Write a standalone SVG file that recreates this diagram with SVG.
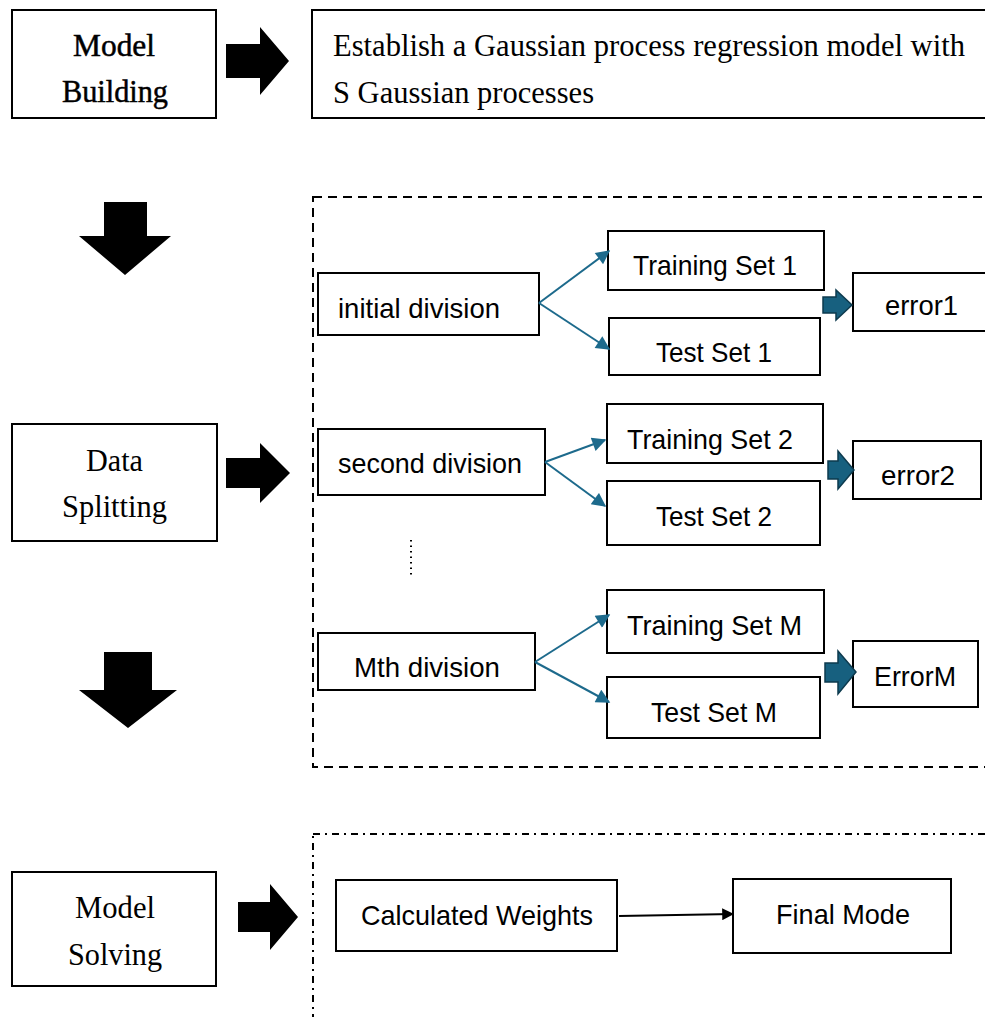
<svg xmlns="http://www.w3.org/2000/svg" width="985" height="1017" viewBox="0 0 985 1017">
  <style>
    .box { fill: #ffffff; stroke: #000000; stroke-width: 2; }
    .serif { font-family: "Liberation Serif", "Times New Roman", serif; font-size: 32px; fill: #000000; }
    .sans { font-family: "Liberation Sans", Arial, sans-serif; font-size: 28.5px; fill: #000000; }
    .bigarrow { fill: #000000; }
    .blue { stroke: #1d6a8c; stroke-width: 2; fill: none; }
    .fat { fill: #17607f; stroke: #0d3a4e; stroke-width: 1.5; }
    .frame-dash { fill: none; stroke: #000000; stroke-width: 2; stroke-dasharray: 9 6; }
    .frame-dashdot { fill: none; stroke: #000000; stroke-width: 2; stroke-dasharray: 7 5 2 5; }
  </style>
  <defs>
    <marker id="blueHead" viewBox="0 0 10 10" refX="9" refY="5" markerWidth="8" markerHeight="7" orient="auto" markerUnits="strokeWidth">
      <path d="M0,0 L10,5 L0,10 Z" fill="#1d6a8c"/>
    </marker>
    <marker id="blackHead" viewBox="0 0 10 10" refX="9" refY="5" markerWidth="6" markerHeight="6" orient="auto" markerUnits="strokeWidth">
      <path d="M0,0 L10,5 L0,10 Z" fill="#000000"/>
    </marker>
  </defs>

  <rect width="985" height="1017" fill="#ffffff"/>

  <!-- dashed frame around the data-splitting stage -->
  <rect class="frame-dash" x="313" y="197" width="700" height="570"/>
  <!-- dash-dot frame around the solving stage -->
  <rect class="frame-dashdot" x="313" y="834" width="700" height="220"/>

  <!-- stage labels -->
  <g id="model-building">
    <rect class="box" x="12" y="10" width="204" height="108"/>
    <text class="serif" x="73" y="56" textLength="82" lengthAdjust="spacingAndGlyphs" stroke="#000" stroke-width="0.5">Model</text>
    <text class="serif" x="62" y="102" textLength="106" lengthAdjust="spacingAndGlyphs" stroke="#000" stroke-width="0.5">Building</text>
  </g>
  <g id="data-splitting">
    <rect class="box" x="12" y="424" width="205" height="117"/>
    <text class="serif" x="86" y="471" textLength="57" lengthAdjust="spacingAndGlyphs">Data</text>
    <text class="serif" x="62" y="517" textLength="105" lengthAdjust="spacingAndGlyphs">Splitting</text>
  </g>
  <g id="model-solving">
    <rect class="box" x="12" y="872" width="204" height="114"/>
    <text class="serif" x="75" y="918" textLength="80" lengthAdjust="spacingAndGlyphs">Model</text>
    <text class="serif" x="68" y="965" textLength="94" lengthAdjust="spacingAndGlyphs">Solving</text>
  </g>

  <g id="gpr-model">
    <rect class="box" x="312" y="10" width="690" height="108"/>
    <text class="serif" x="333" y="56" textLength="632" lengthAdjust="spacingAndGlyphs">Establish a Gaussian process regression model with</text>
    <text class="serif" x="333" y="103" textLength="261" lengthAdjust="spacingAndGlyphs">S Gaussian processes</text>
  </g>

  <!-- first division -->
  <g id="initial-division">
    <rect class="box" x="318" y="273" width="221" height="62"/>
    <text class="sans" x="338" y="318" textLength="162" lengthAdjust="spacingAndGlyphs">initial division</text>
  </g>
  <g id="training-set-1">
    <rect class="box" x="608" y="231" width="216" height="59"/>
    <text class="sans" x="633" y="275" textLength="164" lengthAdjust="spacingAndGlyphs">Training Set 1</text>
  </g>
  <g id="test-set-1">
    <rect class="box" x="609" y="318" width="211" height="57"/>
    <text class="sans" x="656" y="362" textLength="116" lengthAdjust="spacingAndGlyphs">Test Set 1</text>
  </g>
  <g id="error-1">
    <rect class="box" x="853" y="273" width="150" height="58"/>
    <text class="sans" x="885" y="315" textLength="73" lengthAdjust="spacingAndGlyphs">error1</text>
  </g>

  <!-- second division -->
  <g id="second-division">
    <rect class="box" x="318" y="429" width="227" height="66"/>
    <text class="sans" x="338" y="473" textLength="184" lengthAdjust="spacingAndGlyphs">second division</text>
  </g>
  <g id="training-set-2">
    <rect class="box" x="607" y="404" width="216" height="59"/>
    <text class="sans" x="627" y="449" textLength="166" lengthAdjust="spacingAndGlyphs">Training Set 2</text>
  </g>
  <g id="test-set-2">
    <rect class="box" x="607" y="481" width="213" height="64"/>
    <text class="sans" x="656" y="526" textLength="116" lengthAdjust="spacingAndGlyphs">Test Set 2</text>
  </g>
  <g id="error-2">
    <rect class="box" x="853" y="441" width="128" height="58"/>
    <text class="sans" x="881" y="485" textLength="74" lengthAdjust="spacingAndGlyphs">error2</text>
  </g>

  <!-- ellipsis between divisions -->
  <line x1="411" y1="540" x2="411" y2="578" stroke="#000" stroke-width="2" stroke-dasharray="1.5 4"/>

  <!-- Mth division -->
  <g id="mth-division">
    <rect class="box" x="318" y="633" width="217" height="57"/>
    <text class="sans" x="354" y="677" textLength="146" lengthAdjust="spacingAndGlyphs">Mth division</text>
  </g>
  <g id="training-set-m">
    <rect class="box" x="607" y="590" width="217" height="63"/>
    <text class="sans" x="627" y="635" textLength="175" lengthAdjust="spacingAndGlyphs">Training Set M</text>
  </g>
  <g id="test-set-m">
    <rect class="box" x="607" y="677" width="213" height="61"/>
    <text class="sans" x="651" y="722" textLength="126" lengthAdjust="spacingAndGlyphs">Test Set M</text>
  </g>
  <g id="error-m">
    <rect class="box" x="853" y="641" width="125" height="66"/>
    <text class="sans" x="874" y="686" textLength="82" lengthAdjust="spacingAndGlyphs">ErrorM</text>
  </g>

  <!-- solving stage -->
  <g id="calculated-weights">
    <rect class="box" x="336" y="880" width="281" height="71"/>
    <text class="sans" x="361" y="925" textLength="232" lengthAdjust="spacingAndGlyphs">Calculated Weights</text>
  </g>
  <g id="final-mode">
    <rect class="box" x="733" y="879" width="218" height="74"/>
    <text class="sans" x="776" y="924" textLength="134" lengthAdjust="spacingAndGlyphs">Final Mode</text>
  </g>

  <g id="connectors">
    <!-- block arrows between stages -->
    <path class="bigarrow" d="M226,44 H260 V27 L289,61 L260,95 V78 H226 Z"/>
    <path class="bigarrow" d="M104,202 H147 V236 H171 L125,275 L79,236 H104 Z"/>
    <path class="bigarrow" d="M226,458 H260 V443 L290,473 L260,503 V488 H226 Z"/>
    <path class="bigarrow" d="M104,652 H152 V690 H177 L128,728 L79,690 H104 Z"/>
    <path class="bigarrow" d="M238,902 H270 V884 L298,917 L270,950 V932 H238 Z"/>

    <!-- division splits -->
    <line class="blue" x1="539" y1="303" x2="609" y2="251" marker-end="url(#blueHead)"/>
    <line class="blue" x1="539" y1="303" x2="609" y2="349" marker-end="url(#blueHead)"/>
    <line class="blue" x1="545" y1="462" x2="605" y2="440" marker-end="url(#blueHead)"/>
    <line class="blue" x1="545" y1="462" x2="605" y2="506" marker-end="url(#blueHead)"/>
    <line class="blue" x1="535" y1="662" x2="609" y2="615" marker-end="url(#blueHead)"/>
    <line class="blue" x1="535" y1="662" x2="609" y2="702" marker-end="url(#blueHead)"/>

    <!-- fat arrows to errors -->
    <path class="fat" d="M823,297 H836 V290 L852,305 L836,320 V313 H823 Z"/>
    <path class="fat" d="M828,461 H838 V451 L854,470 L838,489 V479 H828 Z"/>
    <path class="fat" d="M825,663 H838 V651 L856,672 L838,694 V682 H825 Z"/>

    <!-- weights to final model -->
    <line x1="619" y1="916" x2="733" y2="914" stroke="#000" stroke-width="2" marker-end="url(#blackHead)"/>
  </g>
</svg>
